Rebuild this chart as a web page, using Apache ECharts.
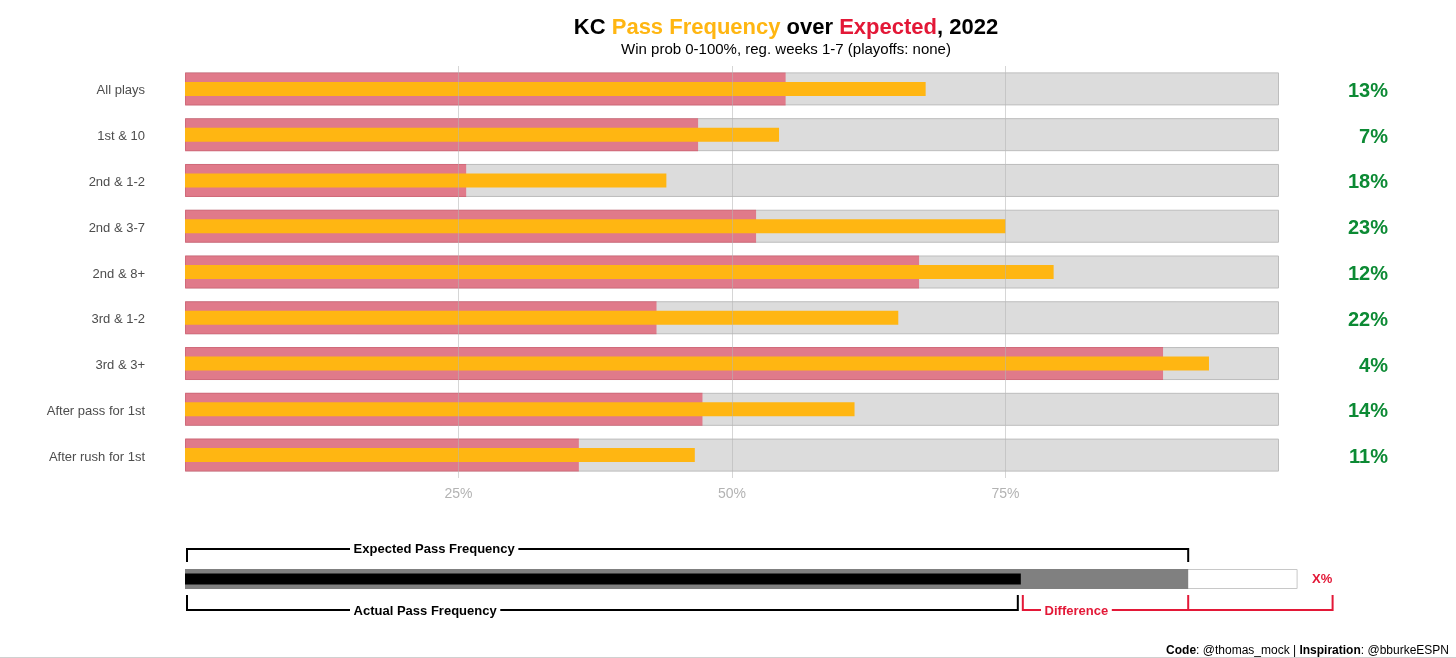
<!DOCTYPE html>
<html lang="en">
<head>
  <meta charset="UTF-8">
  <script src="https://cdn.jsdelivr.net/npm/echarts@6/dist/echarts.min.js"></script>
  <title>KC Pass Frequency over Expected</title>
  <style>
    html, body { margin: 0; padding: 0; background: #fff; }
  </style>
</head>
<body>
  <div id="main" style="width:1456px;height:658px;"></div>
  <script type="text/javascript">
    // situations, top to bottom
    var situations = ['All plays', '1st & 10', '2nd & 1-2', '2nd & 3-7', '2nd & 8+',
                      '3rd & 1-2', '3rd & 3+', 'After pass for 1st', 'After rush for 1st'];
    // expected pass rate (red) and actual pass rate (gold), in %
    var expectedPass = [54.9, 46.9, 25.7, 52.2, 67.1, 43.1, 89.4, 47.3, 36.0];
    var actualPass   = [67.7, 54.3, 44.0, 75.0, 79.4, 65.2, 93.6, 61.2, 46.6];
    var diffLabels   = ['13%', '7%', '18%', '23%', '12%', '22%', '4%', '14%', '11%'];
    var xTicks = [25, 50, 75];

    // key at the bottom
    var keyBox = 101.7, keyExpected = 91.7, keyActual = 76.4;

    var FONT = 'Liberation Sans';
    var RED = '#E31837', GOLD = '#FFB612', GREEN = '#0C8A34';

    var myChart = echarts.init(document.getElementById('main'));

    var full = situations.map(function () { return 100; });
    // a hidden category axis so each bar layer sits centred on its row
    function hiddenCat(grid, data) {
      return { gridIndex: grid, type: 'category', data: data, inverse: true, show: false };
    }

    var option = {
      animation: false,
      textStyle: { fontFamily: FONT },
      grid: [
        { left: 185, width: 1094, top: 66, height: 412 },
        { left: 185, width: 1094, top: 569, height: 20 }
      ],
      xAxis: [
        {
          gridIndex: 0, type: 'value', min: 0, max: 100, interval: 25,
          axisLine: { show: false }, axisTick: { show: false },
          splitLine: { show: false },
          axisLabel: {
            margin: 9, color: '#b3b3b3', fontSize: 14, fontFamily: FONT,
            formatter: function (v) { return xTicks.indexOf(v) >= 0 ? v + '%' : ''; }
          }
        },
        { gridIndex: 1, type: 'value', min: 0, max: 100, show: false }
      ],
      yAxis: [
        {
          gridIndex: 0, type: 'category', data: situations, inverse: true,
          axisLine: { show: false }, axisTick: { show: false },
          axisLabel: {
            margin: 40, formatter: function (v) { return '{t|' + v + '}'; },
            rich: { t: { color: '#4d4d4d', fontSize: 13, fontFamily: FONT, padding: [4, 0, 0, 0] } }
          }
        },
        {
          gridIndex: 0, type: 'category', data: diffLabels, inverse: true, position: 'right',
          axisLine: { show: false }, axisTick: { show: false },
          axisLabel: {
            margin: 109, align: 'right', formatter: function (v) { return '{t|' + v + '}'; },
            rich: { t: { color: GREEN, fontSize: 20, fontWeight: 'bold', fontFamily: FONT, padding: [5, 0, 0, 0] } }
          }
        },
        hiddenCat(0, situations),
        hiddenCat(1, ['key']),
        hiddenCat(1, ['key']),
        hiddenCat(1, ['key'])
      ],
      series: [
        {
          type: 'bar', xAxisIndex: 0, yAxisIndex: 0, data: full,
          barWidth: 33, silent: true, z: 1,
          itemStyle: { color: '#dcdcdc', borderColor: '#bdbdbd', borderWidth: 1 }
        },
        {
          type: 'bar', xAxisIndex: 0, yAxisIndex: 1, data: expectedPass,
          barWidth: 33, silent: true, z: 2,
          itemStyle: { color: RED, opacity: 0.5 }
        },
        {
          type: 'bar', xAxisIndex: 0, yAxisIndex: 2, data: actualPass,
          barWidth: 14, silent: true, z: 3,
          itemStyle: { color: GOLD },
          markLine: {
            silent: true, symbol: 'none', label: { show: false },
            lineStyle: { color: 'rgba(180,180,180,0.55)', type: 'solid', width: 1 },
            data: xTicks.map(function (t) { return { xAxis: t }; })
          }
        },
        // key
        {
          type: 'bar', xAxisIndex: 1, yAxisIndex: 3, data: [keyBox],
          barWidth: 20, silent: true, clip: false,
          itemStyle: { color: '#fff', borderColor: '#c8c8c8', borderWidth: 1 }
        },
        {
          type: 'bar', xAxisIndex: 1, yAxisIndex: 4, data: [keyExpected],
          barWidth: 20, silent: true,
          itemStyle: { color: '#808080' }
        },
        {
          type: 'bar', xAxisIndex: 1, yAxisIndex: 5, data: [keyActual],
          barWidth: 11, silent: true,
          itemStyle: { color: '#000' }
        }
      ]
    };
    myChart.setOption(option);

    // brackets around the key, placed from the key's own scale
    function px(v) { return myChart.convertToPixel({ xAxisIndex: 1 }, v); }
    var x0 = px(0) + 2, xE = px(keyExpected), xA = px(keyActual) - 3, xD = px(keyActual) + 2;
    var xEnd = px(keyBox) + 35;
    var blk = { stroke: '#000', lineWidth: 2, fill: null };
    var red = { stroke: RED, lineWidth: 2, fill: null };

    myChart.setOption({
      graphic: [
        {
          type: 'text', x: 786, y: 28,
          style: {
            text: '{a|KC }{b|Pass Frequency}{a| over }{c|Expected}{a|, 2022}',
            textAlign: 'center', textVerticalAlign: 'middle',
            rich: {
              a: { fontSize: 22, fontWeight: 'bold', fill: '#000', fontFamily: FONT },
              b: { fontSize: 22, fontWeight: 'bold', fill: GOLD, fontFamily: FONT },
              c: { fontSize: 22, fontWeight: 'bold', fill: RED, fontFamily: FONT }
            }
          }
        },
        {
          type: 'text', x: 786, y: 50,
          style: {
            text: 'Win prob 0-100%, reg. weeks 1-7 (playoffs: none)',
            fontSize: 15, fill: '#000', fontFamily: FONT,
            textAlign: 'center', textVerticalAlign: 'middle'
          }
        },
        { type: 'polyline', shape: { points: [[x0, 562], [x0, 549], [xE, 549], [xE, 562]] }, style: blk },
        {
          type: 'text', x: 350, y: 549, z: 10,
          style: {
            text: ' Expected Pass Frequency ', fontSize: 13, fontWeight: 'bold', fill: '#000',
            fontFamily: FONT, textVerticalAlign: 'middle', backgroundColor: '#fff'
          }
        },
        { type: 'polyline', shape: { points: [[x0, 595], [x0, 610], [xA, 610], [xA, 595]] }, style: blk },
        {
          type: 'text', x: 350, y: 611, z: 10,
          style: {
            text: ' Actual Pass Frequency ', fontSize: 13, fontWeight: 'bold', fill: '#000',
            fontFamily: FONT, textVerticalAlign: 'middle', backgroundColor: '#fff'
          }
        },
        { type: 'polyline', shape: { points: [[xD, 595], [xD, 610], [xEnd, 610], [xEnd, 595]] }, style: red },
        { type: 'line', shape: { x1: xE, y1: 595, x2: xE, y2: 610 }, style: red },
        {
          type: 'text', x: 1041, y: 611, z: 10,
          style: {
            text: ' Difference ', fontSize: 13, fontWeight: 'bold', fill: RED,
            fontFamily: FONT, textVerticalAlign: 'middle', backgroundColor: '#fff'
          }
        },
        {
          type: 'text', x: 1312, y: 579,
          style: {
            text: 'X%', fontSize: 13, fontWeight: 'bold', fill: RED,
            fontFamily: FONT, textVerticalAlign: 'middle'
          }
        },
        {
          type: 'text', right: 7, top: 645,
          style: {
            text: '{b|Code}{n|: @thomas_mock | }{b|Inspiration}{n|: @bburkeESPN}',
            rich: {
              b: { fontSize: 12, fontWeight: 'bold', fill: '#000', fontFamily: FONT },
              n: { fontSize: 12, fill: '#000', fontFamily: FONT }
            }
          }
        },
        { type: 'line', shape: { x1: 0, y1: 657.5, x2: 1456, y2: 657.5 }, style: { stroke: '#d0d0d0', lineWidth: 1 } }
      ]
    });
  </script>
</body>
</html>
